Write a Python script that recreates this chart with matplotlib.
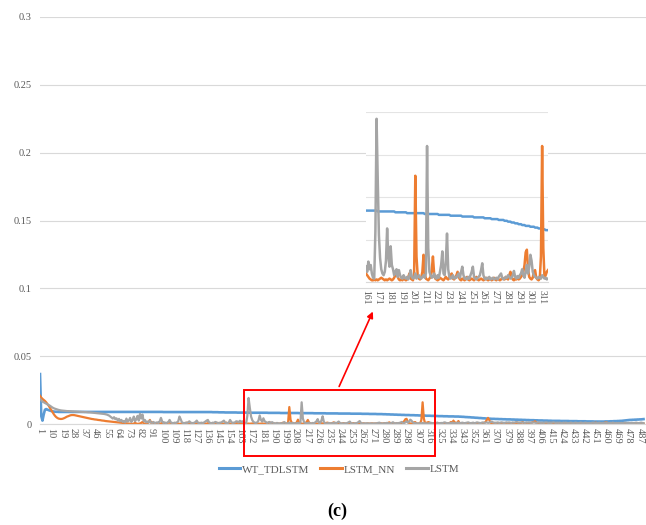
import numpy as np
import matplotlib
matplotlib.use("Agg")
import matplotlib.pyplot as plt
from matplotlib.patches import Rectangle, FancyArrowPatch

# series values, in units of 1e-4, one value per step 1..490
wt_tdlstm = [
    368, 60, 25, 70, 105, 110, 106, 102, 99, 96,
    94, 92, 91, 90, 90, 89, 89, 89, 89, 89,
    89, 89, 89, 89, 89, 89, 89, 89, 89, 89,
    89, 89, 89, 89, 89, 89, 89, 89, 89, 89,
    89, 89, 89, 89, 89, 89, 89, 89, 89, 89,
    89, 89, 89, 89, 89, 89, 89, 89, 89, 89,
    89, 89, 89, 89, 89, 89, 89, 89, 89, 89,
    89, 89, 89, 89, 89, 89, 89, 89, 89, 89,
    89, 89, 89, 89, 89, 89, 89, 89, 89, 89,
    89, 89, 89, 89, 89, 89, 89, 89, 89, 89,
    88, 88, 88, 88, 88, 88, 88, 88, 88, 88,
    88, 88, 88, 88, 88, 88, 88, 88, 88, 88,
    88, 88, 88, 88, 88, 88, 88, 88, 88, 88,
    88, 88, 88, 88, 88, 88, 88, 88, 88, 88,
    87, 87, 87, 87, 87, 86, 86, 86, 86, 86,
    85, 85, 85, 85, 85, 85, 85, 85, 85, 85,
    84, 84, 84, 84, 84, 84, 84, 84, 84, 84,
    83, 83, 83, 83, 83, 83, 83, 83, 83, 83,
    83, 83, 83, 83, 83, 82, 82, 82, 82, 82,
    82, 82, 82, 82, 82, 81, 81, 81, 81, 81,
    81, 81, 81, 81, 81, 81, 81, 81, 81, 81,
    80, 80, 80, 80, 80, 80, 80, 80, 80, 80,
    80, 80, 79, 79, 79, 79, 79, 79, 79, 79,
    79, 79, 78, 78, 78, 78, 78, 78, 78, 78,
    78, 78, 77, 77, 77, 77, 77, 77, 77, 77,
    77, 77, 76, 76, 76, 76, 76, 76, 76, 76,
    76, 75, 75, 75, 75, 75, 75, 74, 74, 74,
    74, 74, 74, 73, 73, 73, 73, 73, 72, 72,
    72, 71, 71, 71, 70, 70, 70, 69, 69, 69,
    68, 68, 68, 67, 67, 67, 66, 66, 66, 66,
    65, 65, 65, 65, 64, 64, 64, 63, 63, 63,
    62, 62, 62, 61, 61, 61, 61, 60, 60, 60,
    59, 59, 59, 58, 58, 58, 58, 57, 57, 57,
    57, 56, 56, 56, 56, 56, 55, 55, 55, 55,
    54, 54, 53, 53, 52, 51, 51, 50, 50, 49,
    48, 48, 47, 46, 46, 45, 44, 44, 43, 42,
    42, 41, 40, 40, 39, 39, 38, 38, 38, 37,
    37, 37, 36, 36, 36, 35, 35, 35, 34, 34,
    34, 34, 33, 33, 33, 32, 32, 32, 31, 31,
    31, 30, 30, 30, 29, 29, 29, 28, 28, 28,
    28, 27, 27, 27, 26, 26, 26, 26, 25, 25,
    25, 25, 24, 24, 24, 23, 23, 23, 23, 23,
    23, 23, 22, 22, 22, 22, 22, 22, 22, 21,
    21, 21, 21, 21, 21, 21, 20, 20, 20, 20,
    20, 20, 20, 19, 19, 19, 19, 19, 19, 18,
    18, 18, 18, 18, 18, 18, 18, 18, 19, 19,
    19, 19, 20, 20, 20, 21, 21, 21, 22, 22,
    23, 23, 24, 25, 26, 27, 28, 29, 30, 30,
    31, 31, 32, 32, 33, 33, 34, 34, 35, 36,
]

lstm_nn = [
    208, 195, 185, 178, 170, 160, 148, 135, 120, 105,
    90, 75, 62, 52, 45, 40, 38, 37, 38, 41,
    45, 50, 55, 58, 62, 65, 66, 66, 65, 63,
    61, 59, 57, 55, 53, 51, 49, 47, 45, 43,
    41, 39, 37, 36, 34, 33, 32, 30, 29, 28,
    26, 25, 24, 22, 21, 20, 19, 18, 17, 16,
    15, 14, 13, 12, 11, 10, 9, 8, 7, 6,
    5, 4, 3, 2, 2, 1, 2, 10, 3, 1,
    2, 4, 8, 15, 5, 2, 1, 3, 12, 30,
    8, 12, 3, 1, 2, 1, 3, 2, 4, 8,
    3, 2, 4, 6, 10, 15, 5, 2, 1, 3,
    2, 6, 3, 1, 2, 4, 2, 3, 5, 10,
    4, 2, 1, 3, 2, 1, 2, 4, 3, 8,
    3, 1, 2, 4, 2, 3, 6, 2, 1, 2,
    3, 2, 4, 3, 8, 4, 2, 1, 3, 2,
    4, 10, 5, 2, 3, 1, 2, 6, 3, 4,
    10, 8, 6, 4, 3, 2, 2, 3, 2, 3,
    2, 3, 4, 5, 4, 3, 2, 3, 2, 3,
    4, 3, 2, 3, 5, 8, 12, 6, 3, 2,
    3, 2, 4, 3, 2, 3, 6, 10, 4, 3,
    2, 10, 125, 30, 8, 4, 3, 5, 12, 32,
    10, 4, 3, 2, 4, 6, 14, 30, 10, 4,
    3, 2, 3, 5, 4, 3, 2, 4, 6, 4,
    3, 5, 8, 10, 4, 3, 5, 8, 12, 6,
    3, 2, 4, 3, 2, 4, 6, 3, 2, 3,
    4, 3, 2, 4, 6, 3, 2, 3, 4, 3,
    2, 3, 5, 3, 2, 3, 4, 2, 3, 5,
    3, 2, 4, 3, 2, 3, 5, 4, 3, 6,
    4, 3, 8, 12, 6, 3, 2, 4, 3, 5,
    3, 4, 6, 8, 12, 20, 35, 38, 15, 6,
    4, 3, 5, 12, 14, 5, 3, 2, 4, 30,
    160, 40, 5, 8, 12, 14, 6, 4, 3, 6,
    3, 2, 4, 5, 3, 2, 4, 3, 2, 4,
    3, 5, 8, 15, 10, 25, 8, 10, 5, 22,
    6, 3, 2, 4, 5, 3, 2, 3, 2, 4,
    3, 4, 2, 3, 2, 3, 4, 2, 3, 5,
    8, 15, 30, 45, 30, 10, 4, 3, 2, 8,
    3, 2, 4, 3, 2, 3, 4, 6, 3, 2,
    3, 4, 2, 3, 5, 3, 4, 10, 6, 3,
    8, 15, 6, 3, 2, 4, 3, 5, 8, 12,
    15, 20, 12, 5, 3, 2, 4, 3, 2, 3,
    4, 3, 2, 5, 8, 4, 3, 2, 3, 4,
    3, 2, 4, 6, 3, 2, 3, 4, 2, 3,
    5, 3, 2, 4, 3, 2, 3, 5, 4, 8,
    4, 3, 2, 3, 4, 2, 3, 5, 6, 4,
    10, 8, 4, 3, 2, 3, 5, 8, 10, 12,
    6, 4, 3, 2, 3, 4, 5, 3, 2, 6,
    3, 2, 4, 3, 2, 3, 5, 3, 2, 5,
    4, 3, 2, 3, 4, 3, 2, 3, 4, 3,
]

lstm = [
    185, 175, 165, 160, 155, 150, 145, 140, 135, 128,
    122, 117, 113, 110, 107, 104, 102, 100, 99, 98,
    97, 96, 95, 95, 94, 94, 93, 93, 92, 92,
    91, 91, 90, 90, 89, 89, 88, 88, 87, 86,
    86, 85, 84, 83, 82, 81, 80, 79, 78, 77,
    76, 75, 74, 72, 70, 66, 62, 55, 48, 40,
    50, 35, 42, 25, 38, 20, 30, 15, 22, 12,
    40, 18, 25, 45, 15, 30, 55, 20, 35, 60,
    25, 75, 40, 70, 20, 30, 12, 18, 10, 25,
    10, 8, 15, 6, 10, 12, 8, 20, 45, 18,
    8, 12, 6, 10, 15, 30, 12, 8, 6, 10,
    8, 12, 20, 55, 35, 12, 8, 6, 10, 8,
    12, 20, 10, 8, 6, 10, 15, 25, 10, 6,
    8, 10, 6, 12, 18, 25, 30, 12, 8, 6,
    10, 8, 15, 12, 6, 8, 10, 12, 18, 25,
    10, 8, 6, 12, 30, 15, 8, 10, 12, 20,
    18, 12, 24, 15, 20, 10, 5, 4, 60, 192,
    120, 55, 28, 15, 10, 8, 12, 25, 63, 30,
    18, 42, 20, 15, 8, 12, 15, 6, 14, 8,
    5, 4, 8, 5, 4, 6, 3, 8, 14, 6,
    4, 5, 10, 4, 6, 8, 5, 4, 6, 8,
    5, 10, 160, 40, 12, 8, 5, 6, 10, 5,
    4, 8, 5, 12, 20, 36, 10, 8, 25, 57,
    15, 6, 4, 5, 8, 4, 6, 5, 8, 10,
    5, 12, 18, 8, 4, 5, 3, 6, 4, 8,
    12, 18, 6, 4, 3, 5, 6, 8, 14, 22,
    8, 4, 3, 5, 4, 6, 3, 4, 5, 3,
    4, 5, 3, 6, 8, 10, 5, 3, 4, 6,
    5, 8, 6, 4, 5, 8, 13, 6, 4, 7,
    5, 8, 10, 15, 8, 5, 12, 20, 10, 18,
    32, 25, 12, 8, 6, 5, 4, 6, 5, 4,
    8, 6, 4, 5, 3, 4, 10, 8, 6, 5,
    6, 8, 10, 6, 5, 8, 6, 10, 12, 8,
    6, 5, 8, 6, 10, 8, 6, 5, 8, 10,
    8, 6, 10, 8, 6, 8, 10, 12, 8, 6,
    8, 10, 6, 8, 12, 10, 8, 6, 10, 12,
    8, 10, 12, 8, 10, 15, 18, 12, 10, 8,
    10, 12, 8, 10, 12, 10, 8, 10, 12, 10,
    12, 10, 8, 12, 10, 12, 15, 12, 10, 12,
    10, 12, 10, 8, 12, 10, 12, 10, 8, 10,
    12, 10, 8, 10, 12, 10, 8, 10, 8, 10,
    12, 10, 8, 10, 8, 10, 12, 10, 8, 10,
    8, 10, 8, 6, 10, 8, 10, 8, 6, 8,
    10, 8, 6, 8, 10, 8, 6, 8, 10, 8,
    6, 8, 10, 8, 6, 8, 6, 8, 10, 8,
    6, 8, 6, 10, 8, 6, 8, 6, 8, 10,
    8, 6, 8, 6, 10, 8, 6, 8, 6, 8,
    6, 8, 6, 8, 10, 8, 6, 8, 6, 8,
    8, 6, 8, 10, 8, 6, 8, 10, 8, 6,
]

series_names = ["WT_TDLSTM", "LSTM_NN", "LSTM"]
colors = ["#5B9BD5", "#ED7D31", "#A5A5A5"]
x_labels_main = list(range(1, 491, 9))
x_labels_zoom = list(range(161, 312, 10))
zoom_range = (161, 316)

steps = np.arange(1, len(wt_tdlstm) + 1)
data = [np.array(s) * 1e-4 for s in (wt_tdlstm, lstm_nn, lstm)]

serif = "Liberation Serif"
label_color = "#595959"
grid_color = "#D9D9D9"

fig = plt.figure(figsize=(6.46, 5.25), dpi=100)

# main chart
ax = fig.add_axes([40 / 646, 101 / 525, 606 / 646, 407 / 525])
for y, name, c, w in zip(data, series_names, colors, [1.9, 1.6, 1.6]):
    ax.plot(steps, y, color=c, lw=w, label=name, solid_joinstyle="round")
ax.set_xlim(1, 492)
ax.set_ylim(0, 0.3)
ax.set_yticks(np.arange(0, 0.301, 0.05))
ax.set_yticklabels(["0", "0.05", "0.1", "0.15", "0.2", "0.25", "0.3"],
                   fontsize=7.5, family=serif, color=label_color)
ax.set_xticks(x_labels_main)
ax.set_xticklabels([str(v) for v in x_labels_main], rotation=-90,
                   fontsize=7.5, family=serif, color=label_color)
ax.tick_params(length=0)
ax.tick_params(axis="y", pad=6)
ax.tick_params(axis="x", pad=3)
ax.grid(axis="y", color=grid_color, lw=0.8)
ax.set_axisbelow(True)
for s in ["top", "right", "left"]:
    ax.spines[s].set_visible(False)
ax.spines["bottom"].set_color(grid_color)

leg = fig.legend(loc="center", bbox_to_anchor=(339 / 646, 1 - 469 / 525), ncol=3,
                 frameon=False, prop={"family": serif, "size": 8},
                 handlelength=1.9, handletextpad=0.2, columnspacing=1.0)
for t in leg.get_texts():
    t.set_color(label_color)
for h in leg.get_lines():
    h.set_linewidth(2.2)

# zoomed view of steps 161-316
axi = fig.add_axes([366 / 646, 243 / 525, 182 / 646, 170 / 525])
axi.set_facecolor("white")
lo, hi = zoom_range
for y, c in zip(data, colors):
    axi.plot(steps[lo - 1:hi], y[lo - 1:hi], color=c, lw=1.8)
axi.set_xlim(lo, hi)
axi.set_ylim(0, 0.02)
axi.set_yticks(np.arange(0, 0.0201, 0.005))
axi.set_yticklabels([])
axi.set_xticks(x_labels_zoom)
axi.set_xticklabels([str(v) for v in x_labels_zoom], rotation=-90,
                    fontsize=7, family=serif, color=label_color)
axi.tick_params(length=0)
axi.tick_params(axis="x", pad=6)
axi.grid(axis="y", color="#E4E4E4", lw=0.8)
axi.set_axisbelow(True)
for s in ["top", "right", "left"]:
    axi.spines[s].set_visible(False)
axi.spines["bottom"].set_color(grid_color)

# red box and arrow
fig.add_artist(Rectangle((244 / 646, 69 / 525), 191 / 646, 66 / 525,
                         transform=fig.transFigure, fill=False,
                         edgecolor="#FF0000", lw=1.4))
fig.add_artist(FancyArrowPatch(
    (338 / 646, 136 / 525), (374 / 646, 216 / 525), transform=fig.transFigure,
    arrowstyle="-|>", mutation_scale=9, color="#FF0000", lw=1.2))

fig.text(337 / 646, 1 - 511 / 525, "(c)", ha="center", va="center",
         fontsize=13, fontweight="bold", family=serif, color="black")

fig.savefig("out.png", dpi=100)
